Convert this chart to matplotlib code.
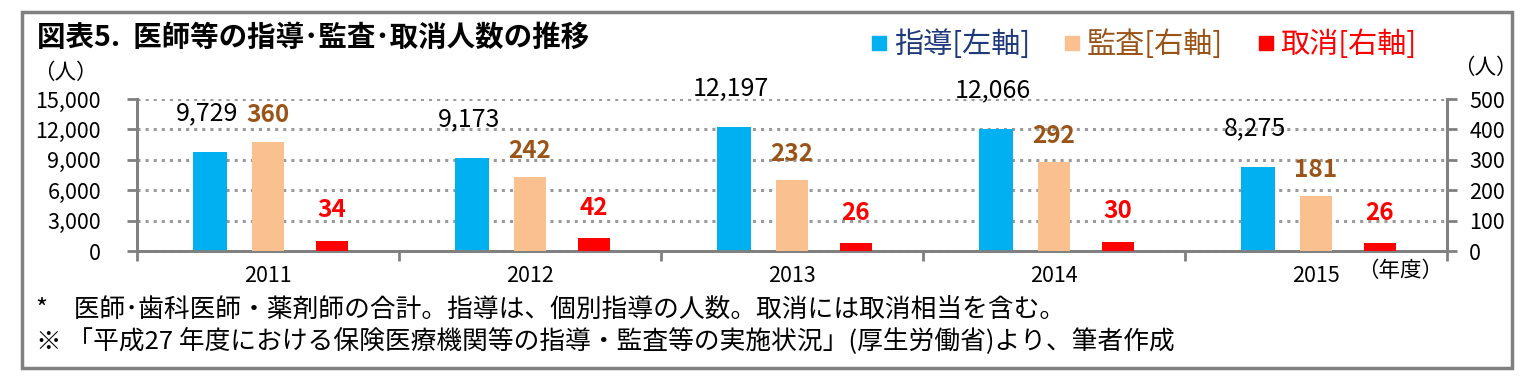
import numpy as np
import matplotlib.pyplot as plt
from matplotlib.lines import Line2D
from matplotlib.patches import Rectangle

plt.rcParams['font.family'] = ['Noto Sans CJK JP', 'DejaVu Sans']

years = ['2011', '2012', '2013', '2014', '2015']
shido = [9729, 9173, 12197, 12066, 8275]   # 指導 (left axis)
kansa = [360, 242, 232, 292, 181]          # 監査 (right axis)
torikeshi = [34, 42, 26, 30, 26]           # 取消 (right axis)

c_blue = '#00B0F0'
c_orange = '#FAC090'
c_red = '#FF0000'
c_brown = '#9A5418'
c_navy = '#1F3A7A'
c_grid = '#9A9A9A'

fig = plt.figure(figsize=(15.36, 3.77), dpi=100)
ax = fig.add_axes([137/1536, 1-251/377, (1447-137)/1536, (251-99)/377])
ax2 = ax.twinx()

x = np.arange(len(years)) + 0.5
ax.bar(x - 0.221, shido, width=0.13, color=c_blue, zorder=3)
ax2.bar(x, kansa, width=0.122, color=c_orange, zorder=3)
ax2.bar(x + 0.244, torikeshi, width=0.122, color=c_red, zorder=3)

ax.set_xlim(0, 5)
ax.set_ylim(0, 15000)
ax2.set_ylim(0, 500)
ax.set_yticks(np.arange(0, 15001, 3000))
ax.set_yticklabels([f'{v:,}' for v in range(0, 15001, 3000)])
ax2.set_yticks(np.arange(0, 501, 100))

ax.set_xticks(np.arange(0, 6))
ax.set_xticklabels([])
ax.set_xticks(x, minor=True)
ax.set_xticklabels(years, minor=True)
ax.tick_params(axis='x', which='major', length=7, width=2, color='#808080')
ax.tick_params(axis='x', which='minor', length=0, pad=10, labelsize=15.5)
ax.tick_params(axis='y', length=7, width=2, color='#808080', pad=19, labelsize=15.5)
ax2.tick_params(axis='y', length=7, width=2, color='#808080', pad=9, labelsize=15.5)

ax.grid(axis='y', linestyle=':', color=c_grid, linewidth=2.2, zorder=0)
ax.set_axisbelow(True)
for a in (ax, ax2):
    a.spines['top'].set_visible(False)
    for s in ('left', 'right', 'bottom'):
        a.spines[s].set_color('#808080')
        a.spines[s].set_linewidth(2)
ax2.patch.set_visible(False)

for xi, v in zip(x, shido):
    ax.annotate(f'{v:,}', (xi - 0.221, v), xytext=(-2, 28), textcoords='offset points',
                ha='center', va='center', fontsize=18, color='black')
for xi, v in zip(x, kansa):
    ax2.annotate(str(v), (xi, v), xytext=(0, 19), textcoords='offset points',
                 ha='center', va='center', fontsize=17.5, fontweight='semibold', color=c_brown)
for xi, v in zip(x, torikeshi):
    ax2.annotate(str(v), (xi + 0.244, v), xytext=(0, 22), textcoords='offset points',
                 ha='center', va='center', fontsize=17.5, fontweight='semibold', color=c_red)

# title, units, notes
fig.text(37/1536, 1-38/377, '図表5.  医師等の指導･監査･取消人数の推移', fontsize=20.5,
         fontweight='bold', va='center', ha='left')
fig.text(33/1536, 1-73/377, '（人）', fontsize=15.5, va='center', ha='left')
fig.text(1453/1536, 1-68/377, '（人）', fontsize=15.5, va='center', ha='left')
fig.text(1443/1536, 1-271/377, '（年度）', fontsize=15.5, va='center', ha='right')
fig.text(36/1536, 1-310/377,
         '*　医師･歯科医師・薬剤師の合計。指導は、個別指導の人数。取消には取消相当を含む。',
         fontsize=18.5, va='center', ha='left')
fig.text(36/1536, 1-341/377,
         '※ 「平成27 年度における保険医療機関等の指導・監査等の実施状況」(厚生労働省)より、筆者作成',
         fontsize=18.5, va='center', ha='left')

handles = [Line2D([], [], marker='s', linestyle='', markersize=10, color=c) for c in (c_blue, c_orange, c_red)]
leg = fig.legend(handles, ['指導[左軸]', '監査[右軸]', '取消[右軸]'], ncol=3, frameon=False,
                 loc='center left', bbox_to_anchor=(872/1536, 1-45/377), fontsize=21,
                 handlelength=0.5, handletextpad=0.25, columnspacing=1.2,
                 labelcolor=[c_navy, c_brown, c_red], borderpad=0, borderaxespad=0)

fig.add_artist(Rectangle((22/1536, 1-368/377), (1512-22)/1536, (368-12)/377,
                         transform=fig.transFigure, fill=False, ec='#808080', lw=2.5))

fig.savefig('out.png', dpi=100)
